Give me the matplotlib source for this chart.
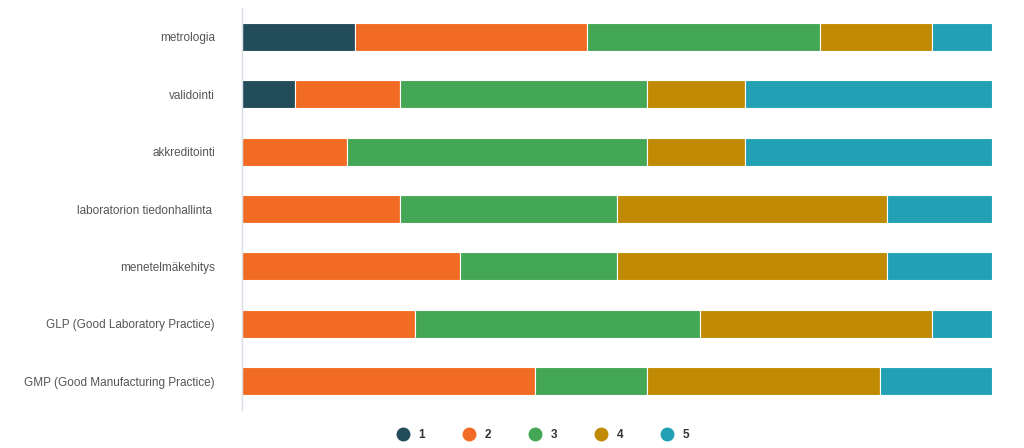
import matplotlib
matplotlib.use("Agg")
import matplotlib.pyplot as plt
from matplotlib.lines import Line2D
import numpy as np

plt.rcParams['font.family'] = ['Liberation Sans', 'DejaVu Sans']

categories = ["metrologia", "validointi", "akkreditointi",
              "laboratorion tiedonhallinta ", "menetelmäkehitys",
              "GLP (Good Laboratory Practice)", "GMP (Good Manufacturing Practice)"]
series_names = ["1", "2", "3", "4", "5"]
s1 = [15, 7, 0, 0, 0, 0, 0]
s2 = [31, 14, 14, 21, 29, 23, 39]
s3 = [31, 33, 40, 29, 21, 38, 15]
s4 = [15, 13, 13, 36, 36, 31, 31]
s5 = [8, 33, 33, 14, 14, 8, 15]
colors = ["#234C5B", "#F26B24", "#44A755", "#C08A03", "#22A1B5"]

fig = plt.figure(figsize=(10.24, 4.48), dpi=100)
ax = fig.add_axes([242/1024, 1-410/448, 750/1024, 402/448])

data = np.array([s1, s2, s3, s4, s5], dtype=float)
data = data / data.sum(axis=0) * 100
y = np.arange(len(categories))
left = np.zeros(len(categories))
for vals, c, name in zip(data, colors, series_names):
    ax.barh(y, vals, left=left, height=0.49, color=c, edgecolor='white',
            linewidth=0.8, label=name)
    left += vals

ax.set_xlim(0, 100)
ax.set_ylim(len(categories)-0.5, -0.5)
ax.set_yticks(y)
ax.set_yticklabels(categories, fontsize=8.45, color='#555555')
ax.tick_params(axis='y', length=0, pad=19.5)
ax.set_xticks([])
for s in ['top', 'right', 'bottom']:
    ax.spines[s].set_visible(False)
ax.spines['left'].set_color('#D8DEE8')
ax.spines['left'].set_linewidth(1)

handles = [Line2D([0], [0], marker='o', linestyle='', markersize=9,
                  markerfacecolor=c, markeredgecolor=c) for c in colors]
leg = fig.legend(handles, series_names, loc='center', bbox_to_anchor=(540/1024, 1-435/448),
                 ncol=5, frameon=False, handletextpad=0.3, columnspacing=2.75,
                 prop={'size': 8.5, 'weight': 'bold'})
for t in leg.get_texts():
    t.set_color('#333333')

fig.savefig("out.png", dpi=100)
